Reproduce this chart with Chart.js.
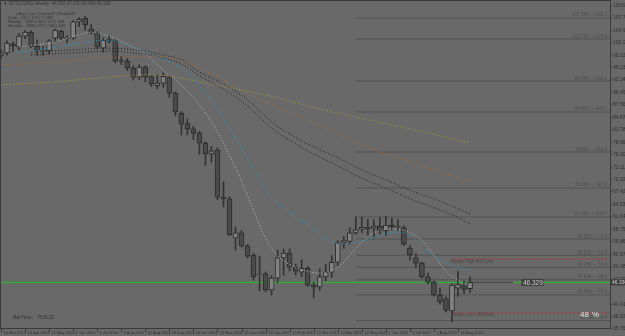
<!DOCTYPE html>
<html>
<head>
<meta charset="UTF-8" />
<title>WTICOUSD, Weekly</title>
<script src="https://cdn.jsdelivr.net/npm/chart.js@4.4.0/dist/chart.umd.min.js"></script>
<style>
  html, body { margin: 0; padding: 0; background: #696969; }
  canvas { display: block; }
</style>
</head>
<body>
<canvas id="chart" width="625" height="336"></canvas>
<script>
// weekly bars, 16 Mar 2014 .. 13 Sep 2015 (index 0 = 16 Mar 2014)
var opens  = [98.9,99.5,101.6,100.9,103.4,104.3,101.0,100.0,100.0,102.9,104.5,102.8,102.9,106.7,107.5,105.0,104.1,100.6,102.6,102.3,
              97.7,97.6,96.0,93.9,96.2,94.0,91.9,92.5,93.9,90.2,85.5,83.1,81.9,80.9,78.6,76.1,77.0,66.1,65.7,56.6,
              57.8,54.8,52.6,48.1,48.3,44.6,47.3,52.0,53.1,49.9,48.7,49.6,45.7,45.3,47.6,48.7,51.0,55.5,55.8,57.8,
              58.6,59.1,58.9,59.4,58.3,59.6,59.4,59.0,54.3,52.0,50.8,47.6,46.4,43.4,42.5,39.7,45.0,45.6,44.9];
var highs  = [100.2,102.3,102.0,104.0,104.7,104.6,102.5,101.0,102.6,105.0,104.8,103.5,107.0,107.7,108.0,106.0,104.4,103.0,103.4,102.6,
              98.7,98.2,96.5,96.8,96.5,94.2,94.5,94.9,94.3,90.5,85.9,84.2,82.5,81.3,78.9,77.8,77.5,69.6,66.2,59.2,
              58.4,55.2,53.1,52.4,48.7,47.9,53.8,54.1,54.1,50.6,51.6,50.0,46.4,49.5,50.5,52.5,56.0,57.0,59.0,61.5,
              61.5,60.9,60.9,61.4,61.6,61.2,60.9,59.4,54.8,53.0,51.0,48.5,46.7,45.0,43.0,46.0,48.9,46.6,47.6];
var lows   = [98.3,99.0,99.6,100.2,102.8,100.8,99.0,98.9,99.3,102.0,102.5,101.8,102.6,105.6,104.8,103.9,100.5,99.7,101.8,97.2,
              96.8,95.4,93.2,93.3,92.8,91.7,91.2,91.5,89.2,84.9,80.5,80.5,79.4,76.0,73.5,74.2,65.5,63.8,57.2,53.8,
              54.5,52.0,46.9,44.4,44.2,43.4,46.3,48.0,49.0,48.0,47.6,45.3,42.7,44.5,46.7,47.5,50.2,54.2,55.2,57.5,
              57.9,57.2,56.9,57.5,57.2,58.4,58.3,54.9,51.5,49.8,47.3,46.0,43.2,41.3,39.5,37.2,43.1,43.8,44.0];
var closes = [99.5,101.8,101.2,103.4,104.3,101.0,100.2,100.1,102.3,104.8,102.9,103.0,106.7,107.3,106.0,104.1,100.9,102.4,102.2,97.6,
              97.5,96.0,93.9,96.2,93.9,92.3,92.5,94.1,90.2,85.8,83.0,81.9,80.9,78.6,76.1,76.8,66.1,65.7,57.3,57.8,
              54.8,52.4,47.6,48.3,44.6,47.3,52.0,53.1,49.9,48.9,49.6,45.7,45.3,47.6,48.7,51.0,55.5,56.0,57.8,58.5,
              59.1,58.8,59.4,58.3,59.6,59.2,59.1,55.2,52.7,50.8,47.6,46.4,43.4,41.8,39.9,45.7,45.8,44.7,46.33];

// moving averages: [bar index, price]
var maFast   = [[3,100.9],[6,101.4],[9,102.0],[12,103.3],[15,104.2],[18,103.4],[21,101.5],[24,99.2],[27,95.5],[30,92.0],
                [33,87.5],[36,81.2],[38,75.7],[40,69.8],[42,63.0],[44,56.5],[46,52.5],[48,50.5],[50,49.3],[52,48.6],
                [54,48.6],[56,49.8],[58,52.6],[60,55.6],[62,57.8],[64,58.6],[66,58.6],[68,57.9],[70,56.0],[72,52.6],
                [74,49.0],[76,46.8],[78,45.3]];
var maMid    = [[2,99.6],[5,100.0],[8,100.6],[11,101.3],[14,101.9],[18,102.4],[22,100.8],[26,98.6],[30,96.0],[33,91.8],
                [36,86.5],[38,82.0],[40,77.5],[42,72.5],[45,66.0],[48,62.6],[52,58.6],[55,55.8],[58,55.4],[61,56.3],
                [64,57.6],[66,58.0],[68,57.2],[70,54.6],[72,52.4],[75,50.2],[78,49.2]];
var bandUp   = [[5,99.7],[12,100.2],[18,100.6],[24,99.9],[27,99.0],[30,97.9],[33,95.1],[37,92.3],[41,88.6],[45,83.5],
                [48,80.7],[52,77.7],[56,75.2],[60,72.4],[64,70.1],[68,67.7],[72,65.7],[75,64.0],[78,62.2]];
var bandDown = [[5,99.0],[12,99.5],[18,99.9],[24,99.2],[27,98.3],[30,96.9],[33,94.2],[37,91.1],[41,87.2],[45,82.1],
                [48,79.3],[52,76.1],[56,73.3],[60,70.5],[64,68.2],[68,65.7],[72,63.6],[75,62.0],[78,59.9]];
var maOrange = [[0,96.7],[9,97.4],[18,98.4],[26,98.6],[29,98.1],[33,96.0],[37,93.2],[42,89.3],[47,86.3],[53,82.8],
                [60,78.2],[66,75.2],[72,72.4],[78,69.6]];
var maOlive  = [[0,92.1],[9,92.8],[18,93.9],[26,94.4],[33,92.8],[40,90.9],[46,89.1],[53,86.5],[61,84.0],[69,81.6],[78,78.6]];

// fibo levels on the right
var levelPrices = [107.59,102.72,92.99,85.81,76.54,68.20,61.48,56.38,52.61,49.78,46.94,43.44,37.45];
var levelTags   = ['290.7','270.6','230.1','200.0','161.8','127.2','100.0','76.4','61.8','50.0','38.2','23.6','0.0'];
var rangeHigh = 51.75, rangeLow = 39.24;
var lastPrice = 46.33;

// axis labels
var priceTicks = ['110.600','107.710','104.900','102.015','99.125','96.230','93.345','90.450','87.565','84.675','81.780',
                  '78.895','76.000','73.115','70.220','67.420','64.530','61.640','58.750','55.860','52.970','50.080',
                  '47.190','41.410','38.520','35.765'];
var dateTicks = ['16 Mar 2014','13 Apr 2014','11 May 2014','8 Jun 2014','6 Jul 2014','3 Aug 2014','31 Aug 2014',
                 '28 Sep 2014','26 Oct 2014','23 Nov 2014','21 Dec 2014','18 Jan 2015','15 Feb 2015','15 Mar 2015',
                 '12 Apr 2015','10 May 2015','7 Jun 2015','5 Jul 2015','2 Aug 2015','30 Aug 2015'];

var xMin = -0.166, xMax = 101.28;
var levelStart = 59.05;
var FONT = '"Liberation Sans", Arial, sans-serif';

function pts(arr) {
  return arr.map(function (p) { return {x: p[0], y: p[1]}; });
}
function dotted(arr, color) {
  return {type: 'line', data: pts(arr), borderColor: color, borderWidth: 1, borderDash: [1, 2],
          pointRadius: 0, tension: 0.4, order: 0};
}
function hline(x0, x1, p, color, dash) {
  return {type: 'line', data: [{x: x0, y: p}, {x: x1, y: p}], borderColor: color, borderWidth: 1,
          borderDash: dash || [], pointRadius: 0, order: 5};
}

var bodyData = closes.map(function (c, i) { return {x: i, y: [opens[i], c]}; });
var wickData = closes.map(function (c, i) { return {x: i, y: [lows[i], highs[i]]}; });
var bodyFill = closes.map(function (c, i) { return c >= opens[i] ? '#828282' : '#4a4a4a'; });

var datasets = [];
levelPrices.forEach(function (p) { datasets.push(hline(levelStart, xMax, p, '#535353')); });
datasets.push(hline(75.2, xMax, rangeHigh, '#c02a2a', [2, 2]));
datasets.push(hline(75.2, xMax, rangeLow, '#c02a2a', [2, 2]));
datasets.push(hline(xMin, 78, lastPrice, '#22c422'));
datasets.push(hline(78, 85.15, lastPrice, '#454545'));
datasets.push(hline(85.15, xMax, lastPrice, '#22c422'));
datasets.push({type: 'bar', data: wickData, backgroundColor: '#333333', barThickness: 1, grouped: false, order: 2});
datasets.push({type: 'bar', data: bodyData, backgroundColor: bodyFill, borderColor: '#2b2b2b', borderWidth: 1,
               borderSkipped: false, barThickness: 5, minBarLength: 1, grouped: false, order: 1});
datasets.push(dotted(maOlive, '#a5a22c'));
datasets.push(dotted(maOrange, '#b26a2e'));
datasets.push(dotted(bandUp, '#1f1f1f'));
datasets.push(dotted(bandDown, '#1f1f1f'));
datasets.push(dotted(maMid, '#229fd6'));
datasets.push(dotted(maFast, '#b9b9b9'));

var decor = {
  id: 'decor',
  beforeDraw: function (chart) {
    var c = chart.ctx;
    c.save();
    c.fillStyle = '#696969';
    c.fillRect(0, 0, chart.width, chart.height);
    c.restore();
  },
  afterDraw: function (chart) {
    var c = chart.ctx, xs = chart.scales.x, ys = chart.scales.y, a = chart.chartArea;
    c.save();
    // frame
    c.strokeStyle = '#3a3a3a';
    c.lineWidth = 1;
    c.beginPath();
    c.moveTo(0, 0.5); c.lineTo(a.right, 0.5);
    c.moveTo(0.5, 0); c.lineTo(0.5, a.bottom);
    c.moveTo(a.right + 0.5, 0); c.lineTo(a.right + 0.5, a.bottom + 0.5);
    c.moveTo(0, a.bottom + 0.5); c.lineTo(a.right + 0.5, a.bottom + 0.5);
    c.stroke();

    // price scale
    c.font = '5px ' + FONT;
    c.fillStyle = '#2f2f2f';
    c.textBaseline = 'middle';
    c.textAlign = 'left';
    priceTicks.forEach(function (t) {
      var y = Math.round(ys.getPixelForValue(parseFloat(t))) + 0.5;
      c.beginPath(); c.moveTo(a.right, y); c.lineTo(a.right + 2, y); c.stroke();
      c.fillText(t, a.right + 3, y);
    });

    // date scale
    c.font = '4px ' + FONT;
    c.textBaseline = 'alphabetic';
    dateTicks.forEach(function (t, k) {
      var x = Math.round(xs.getPixelForValue(k * 4)) + 0.5;
      c.beginPath(); c.moveTo(x, a.bottom); c.lineTo(x, a.bottom + 4); c.stroke();
      c.fillText(t, x + 2, a.bottom + 6);
    });

    // fibo tags
    c.font = '4.5px ' + FONT;
    c.fillStyle = '#4d4d4d';
    c.textAlign = 'right';
    levelPrices.forEach(function (p, k) {
      var y = ys.getPixelForValue(p);
      c.fillText(p.toFixed(3) + ' --- ' + levelTags[k], a.right - 3, y - 1.5);
    });

    // range texts
    c.textAlign = 'left';
    c.fillStyle = '#474747';
    c.font = '4.5px ' + FONT;
    var rx = xs.getPixelForValue(74.8);
    c.fillText('Range High (642 pts)', rx, ys.getPixelForValue(rangeHigh) + 4.5);
    c.fillText('Range Low (-609 pts)', rx, ys.getPixelForValue(rangeLow) + 3);

    // last price boxes
    var ly = ys.getPixelForValue(lastPrice);
    var bx = xs.getPixelForValue(86.55);
    c.fillStyle = '#3e3e3e';
    c.fillRect(bx, ly - 3.5, 22, 7);
    c.fillRect(a.right + 1, ly - 3, 15, 6);
    c.fillStyle = '#d0d0d0';
    c.font = '6.5px ' + FONT;
    c.textBaseline = 'middle';
    c.fillText('46.329', bx + 1.5, ly + 0.5);
    c.font = '5px ' + FONT;
    c.fillText('46.330', a.right + 2, ly + 0.5);

    // percent
    c.fillStyle = '#e6e6e6';
    c.font = '8px ' + FONT;
    c.fillText('48', 580, 315);
    c.fillText('%', 592, 315);

    // header and info panel
    c.fillStyle = '#333333';
    c.font = '4.5px ' + FONT;
    c.fillText('\u25BC WTICOUSD,Weekly  44.500 47.630 43.400 46.328', 3, 4);
    c.font = '4px ' + FONT;
    c.fillText('       | Avg | Curr | RoomUP | RoomDN', 8, 14);
    c.fillText('Daily :  222 | 109 | 9 | 383', 8, 18);
    c.fillText('Weekly :  1099 | 563 | 127 | 328', 8, 22);
    c.fillText('Monthly :  3096 | 977 | 584 | 609', 8, 26);

    c.font = '5px ' + FONT;
    c.fillText('BarTime:   75:8:22', 13, 318);
    c.restore();
  }
};

new Chart(document.getElementById('chart'), {
  data: {datasets: datasets},
  options: {
    responsive: false,
    devicePixelRatio: 1,
    animation: false,
    layout: {padding: {left: 0, top: 0, right: 15, bottom: 8}},
    plugins: {legend: {display: false}, tooltip: {enabled: false}},
    scales: {
      x: {type: 'linear', min: xMin, max: xMax, offset: false, display: false},
      y: {type: 'linear', min: 35.76, max: 111.76, display: false}
    }
  },
  plugins: [decor]
});
</script>
</body>
</html>
